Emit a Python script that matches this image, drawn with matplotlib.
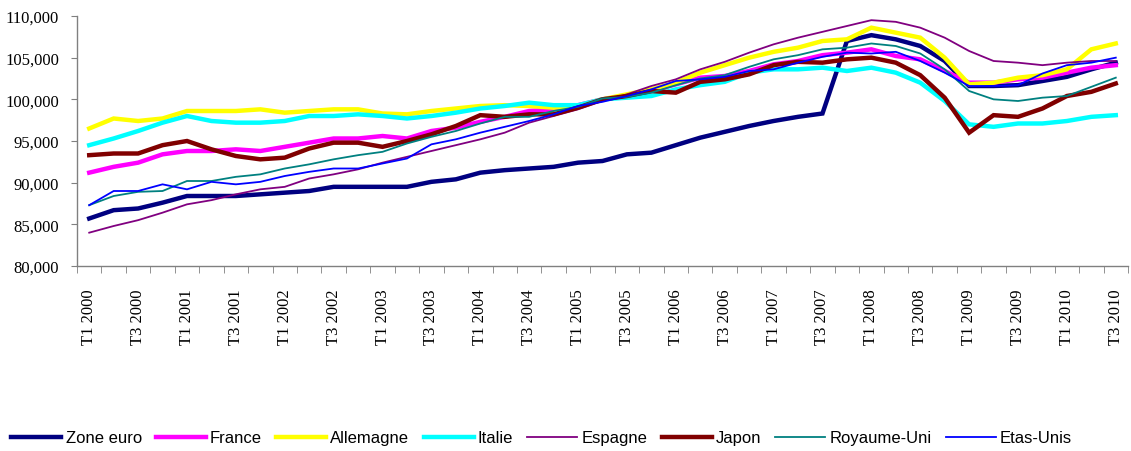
import matplotlib
matplotlib.use("Agg")
import matplotlib.pyplot as plt
import numpy as np
from matplotlib.ticker import FuncFormatter

# quarterly index, T1 2000 .. T3 2010
years = list(range(2000, 2011))
quarters = [f"T{q} {y}" for y in years for q in (1, 2, 3, 4)][:43]

zone_euro = [85700, 86700, 86900, 87600, 88400, 88400, 88400, 88600, 88800, 89000,
             89500, 89500, 89500, 89500, 90100, 90400, 91200, 91500, 91700, 91900,
             92400, 92600, 93400, 93600, 94500, 95400, 96100, 96800, 97400, 97900,
             98300, 107000, 107700, 107200, 106400, 104600, 101600, 101600, 101700, 102200,
             102700, 103600, 104400]
france = [91200, 91900, 92400, 93400, 93800, 93800, 94000, 93800, 94300, 94800,
          95300, 95300, 95600, 95300, 96200, 96600, 97300, 97900, 98600, 98800,
          99300, 100000, 100400, 101000, 101800, 102600, 102800, 103400, 104200, 104600,
          105300, 105600, 106000, 105200, 104800, 103400, 102000, 102000, 102400, 102600,
          103200, 103800, 104100]
allemagne = [96500, 97700, 97400, 97700, 98600, 98600, 98600, 98800, 98400, 98600,
             98800, 98800, 98300, 98200, 98600, 98900, 99200, 99300, 99200, 99000,
             99200, 100000, 100600, 101200, 102000, 103200, 104100, 105000, 105700, 106200,
             107000, 107200, 108600, 108000, 107400, 105000, 101800, 102000, 102600, 102900,
             103600, 106000, 106700]
italie = [94500, 95300, 96200, 97200, 98000, 97400, 97200, 97200, 97400, 98000,
          98000, 98200, 98000, 97700, 98000, 98400, 98900, 99200, 99600, 99300,
          99300, 100000, 100200, 100400, 101200, 101700, 102100, 103200, 103600, 103600,
          103800, 103400, 103800, 103200, 102000, 99800, 97000, 96700, 97100, 97100,
          97400, 97900, 98100]
espagne = [84000, 84800, 85500, 86400, 87400, 87900, 88600, 89200, 89500, 90500,
           91000, 91600, 92400, 93100, 93800, 94500, 95200, 96000, 97200, 98000,
           98800, 99800, 100600, 101600, 102400, 103600, 104500, 105600, 106600, 107400,
           108100, 108800, 109500, 109300, 108600, 107400, 105800, 104600, 104400, 104100,
           104400, 104600, 104600]
japon = [93300, 93500, 93500, 94500, 95000, 94000, 93200, 92800, 93000, 94100,
         94800, 94800, 94300, 95000, 95800, 96800, 98100, 97900, 98200, 98200,
         99000, 100000, 100400, 101000, 100800, 102100, 102400, 103000, 104100, 104500,
         104400, 104800, 105000, 104400, 102900, 100200, 96000, 98100, 97900, 98900,
         100400, 100900, 101900]
royaume_uni = [87300, 88400, 88900, 89000, 90200, 90200, 90700, 91000, 91700, 92200,
               92800, 93300, 93700, 94700, 95500, 96200, 97100, 97900, 97900, 98600,
               99100, 100100, 100300, 100800, 101700, 102500, 102900, 103900, 104800, 105300,
               106000, 106200, 106700, 106400, 105500, 103600, 101000, 100000, 99800, 100200,
               100400, 101500, 102600]
etats_unis = [87300, 89000, 89000, 89800, 89200, 90100, 89800, 90100, 90800, 91300,
              91700, 91700, 92300, 92900, 94600, 95200, 96000, 96700, 97400, 98200,
              99200, 99700, 100400, 101200, 102200, 102400, 102700, 103400, 103600, 104400,
              105100, 105600, 105500, 105700, 104600, 103200, 101600, 101600, 101700, 103100,
              104100, 104400, 105000]

series = [
	("Zone euro", zone_euro, "#000080", 3.2),
	("France", france, "#FF00FF", 3.2),
	("Allemagne", allemagne, "#FFFF00", 3.2),
	("Italie", italie, "#00FFFF", 3.2),
	("Espagne", espagne, "#800080", 1.3),
	("Japon", japon, "#800000", 3.2),
	("Royaume-Uni", royaume_uni, "#008080", 1.3),
	("Etas-Unis", etats_unis, "#0000FF", 1.3),
]

fig = plt.figure(figsize=(11.31, 4.52), dpi=100)
ax = fig.add_axes([77/1131, 1 - 267/452, (1128-77)/1131, 250/452])

x = np.arange(len(quarters))
for name, vals, col, lw in series:
	ax.plot(x, vals, color=col, lw=lw, label=name, solid_joinstyle="miter")

ax.set_xlim(-0.5, len(quarters) - 0.5)
ax.set_ylim(80000, 110000)

ax.set_yticks(np.arange(80000, 110001, 5000))
ax.yaxis.set_major_formatter(FuncFormatter(lambda v, p: f"{int(v):,}"))

# labels every 2 quarters, tick marks between categories
ax.set_xticks(x[::2])
ax.set_xticklabels(quarters[::2], rotation=90)
ax.set_xticks(np.arange(-0.5, len(quarters), 1), minor=True)
ax.tick_params(axis="x", which="major", length=0, pad=16)
ax.tick_params(axis="x", which="minor", length=5, color="#808080", direction="out")
ax.tick_params(axis="y", length=4, color="#808080", direction="out", pad=9)

for lab in ax.get_xticklabels() + ax.get_yticklabels():
	lab.set_fontfamily("Liberation Serif")
	lab.set_fontsize(12)

for s in ("top", "right"):
	ax.spines[s].set_visible(False)
for s in ("left", "bottom"):
	ax.spines[s].set_color("#808080")
	ax.spines[s].set_linewidth(1.0)

fig.legend(loc="center", bbox_to_anchor=(0.479, 0.029), ncol=8, frameon=False,
           handlelength=3.0, handletextpad=0.25, columnspacing=0.85,
           prop={"family": ["Liberation Sans Narrow", "Liberation Sans"], "size": 12})

fig.savefig("out.png", dpi=100)
